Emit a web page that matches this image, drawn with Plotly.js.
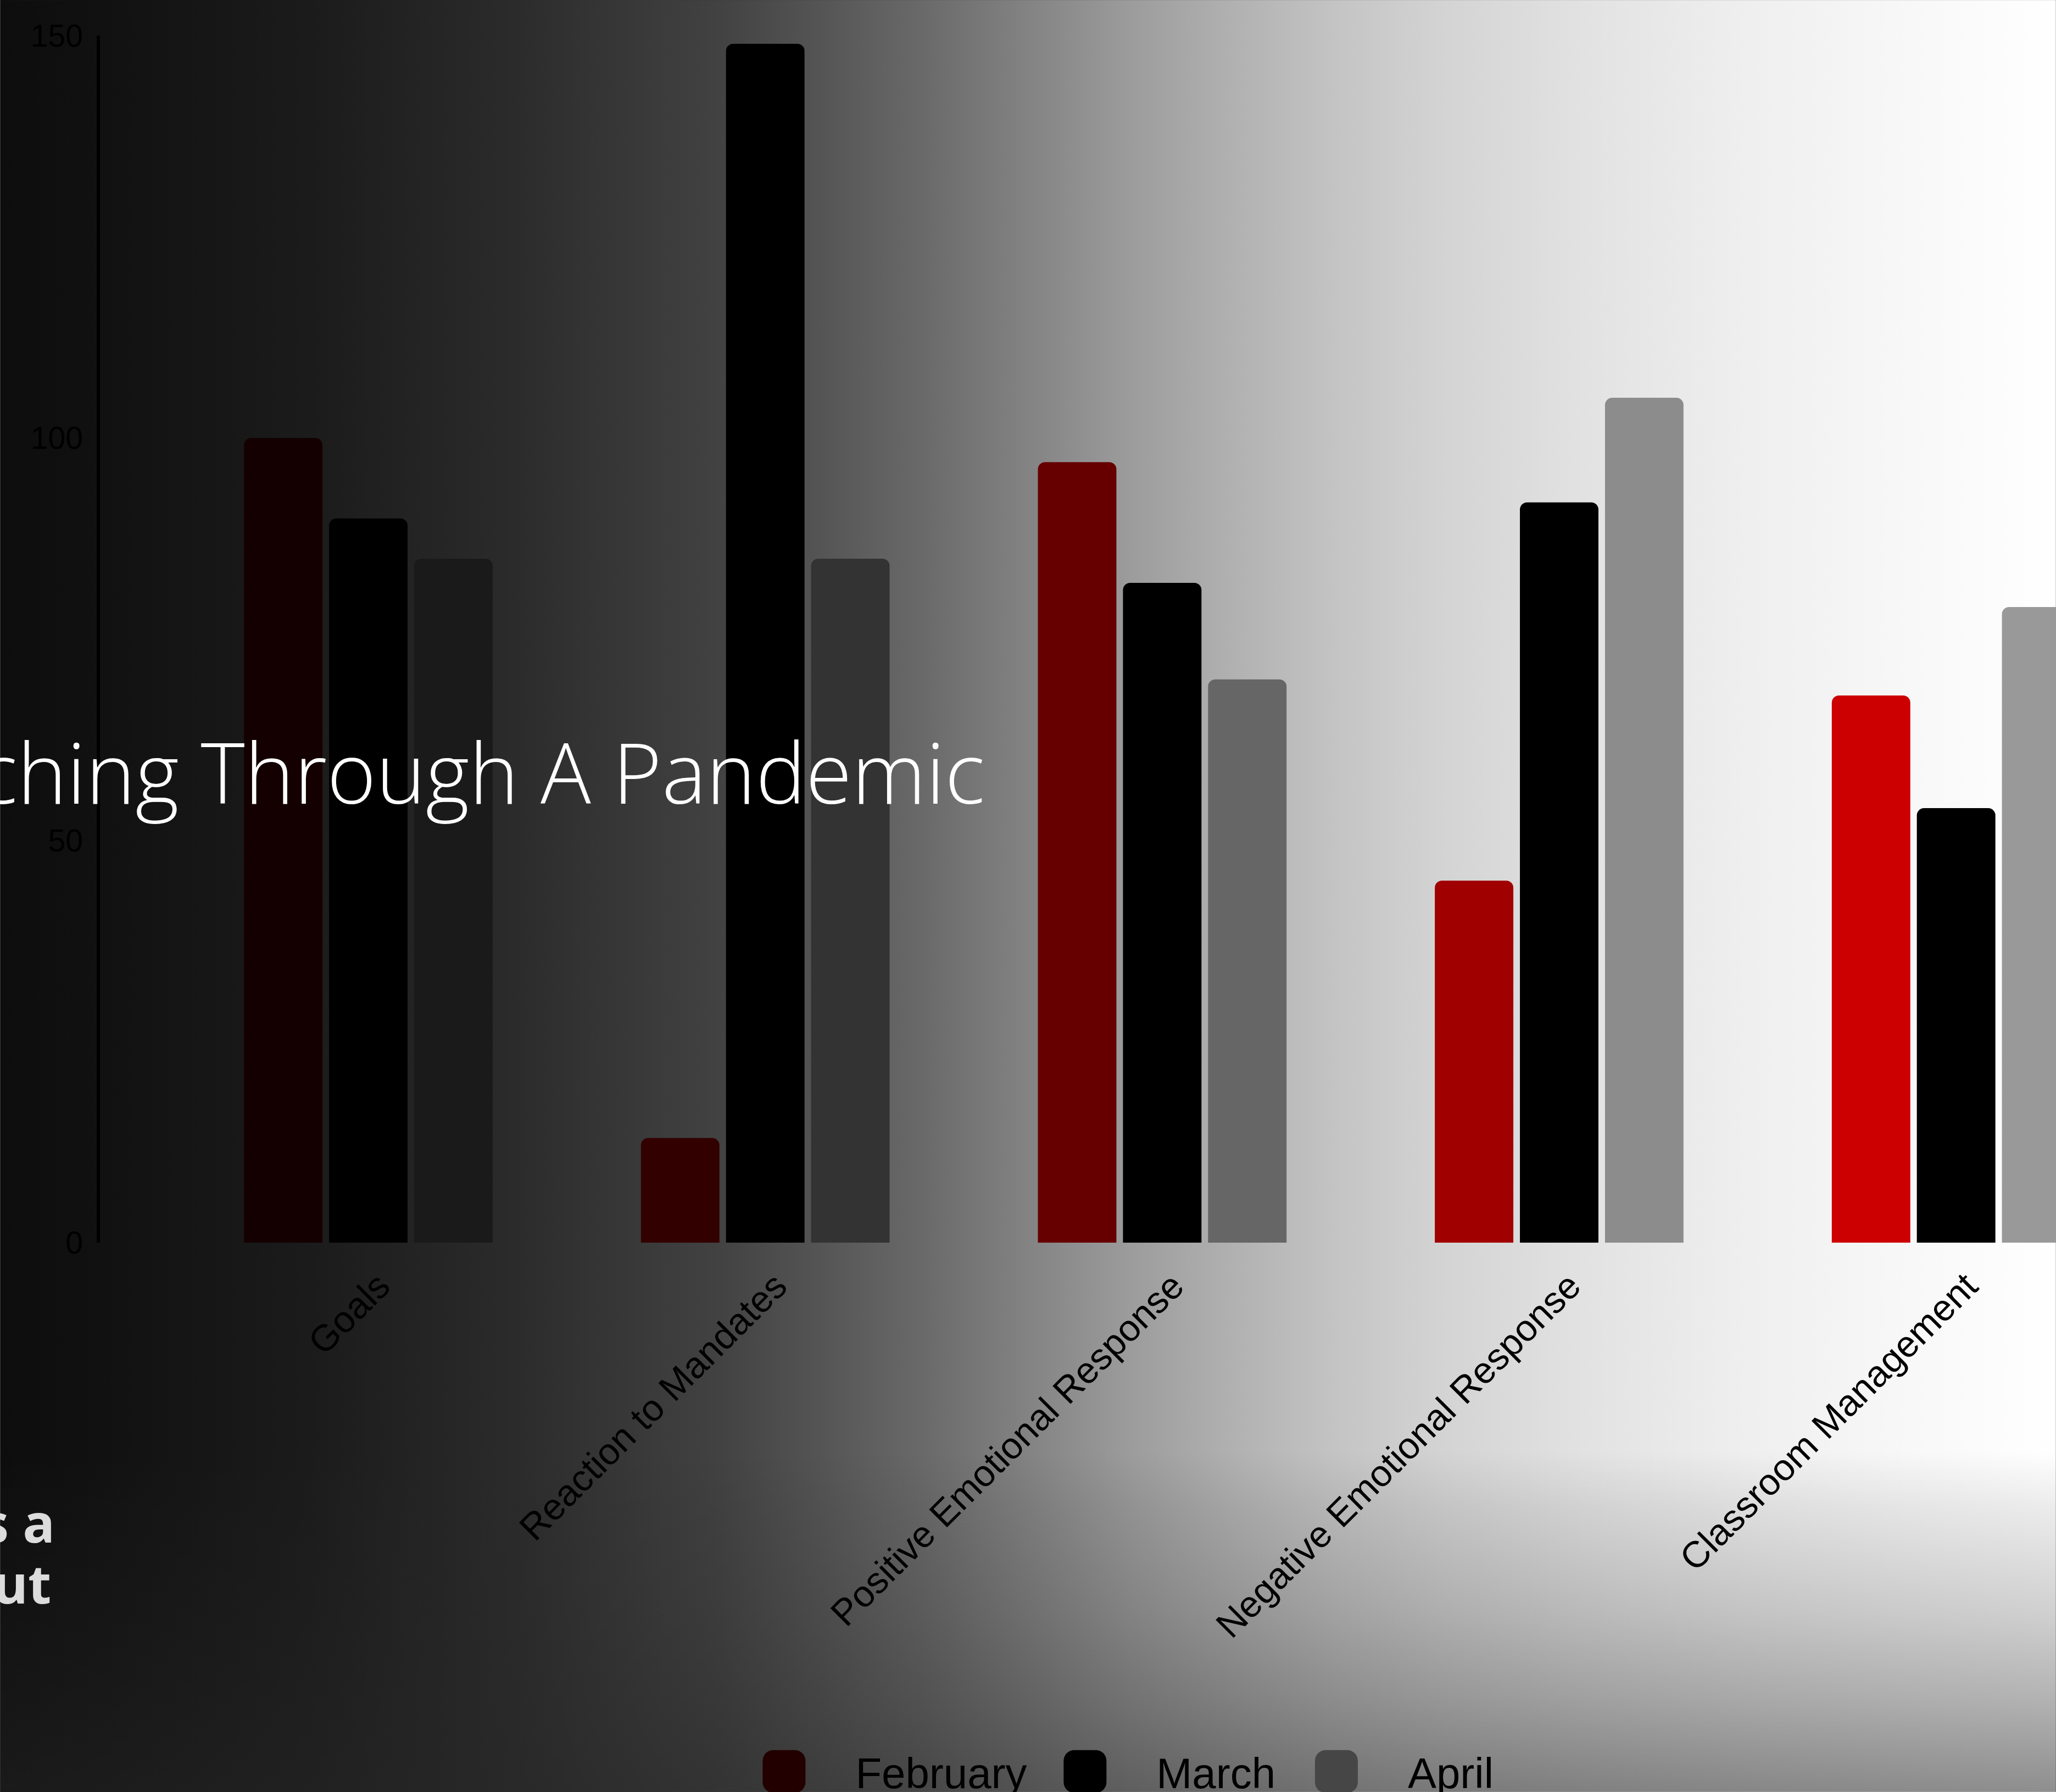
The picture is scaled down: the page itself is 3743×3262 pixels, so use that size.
<!DOCTYPE html>
<html>
<head>
<meta charset="utf-8">
<script src="https://cdn.plot.ly/plotly-3.0.1.min.js"></script>
<style>
  html, body {
    margin: 0; padding: 0;
    width: 3743px; height: 3262px; overflow: hidden;
  }
  body {
    background:
      linear-gradient(to bottom, rgba(38,38,38,0) 0%, rgba(38,38,38,0) 81%, rgba(38,38,38,0.088) 84%, rgba(38,38,38,0.217) 90%, rgba(38,38,38,0.341) 94.5%, rgba(38,38,38,0.488) 99%, rgba(38,38,38,0.52) 100%),
      linear-gradient(to right, #0d0d0d 0%, #111111 5%, #1b1b1b 15%, #2b2b2b 25%, #424242 35%, #555555 40%, #6a6a6a 45%, #838383 50%, #9c9c9c 55%, #b1b1b1 60%, #c4c4c4 65%, #d3d3d3 70%, #e2e2e2 77%, #efefef 85%, #f8f8f8 93%, #ffffff 100%);
  }
  #chart {
    position: absolute; left: 0; top: 0;
    width: 576px; height: 502px;
    transform: scale(6.5); transform-origin: 0 0;
  }
</style>
</head>
<body>
<div id="chart"></div>
<script>
// ---- data ----
const categories = ['Goals', 'Reaction to Mandates', 'Positive Emotional Response', 'Negative Emotional Response', 'Classroom Management'];
const seriesNames = ['February', 'March', 'April'];
const february = [100, 13, 97, 45, 68];
const march = [90, 149, 82, 92, 54];
const april = [85, 85, 70, 105, 79];
const yTicks = [0, 50, 100, 150];
const titleText = 'Teaching Through A Pandemic';
const sideTextLines = ['s a', 'ut'];

// ---- styles ----
const febColors = ['#140000', '#330000', '#660000', '#a00000', '#cc0000'];
const marColors = ['#000000', '#000000', '#000000', '#000000', '#000000'];
const aprColors = ['#1a1a1a', '#333333', '#666666', '#8c8c8c', '#999999'];
const legendColors = ['#220000', '#000000', '#464646'];
const groups = ['feb', 'mar', 'apr'];
const legendIds = ['legend', 'legend2', 'legend3'];
const legendLeftPx = [199.6, 283.9, 354.3];

const W = 576, H = 502;
const M = {l: 28, r: 0, t: 10, b: 154};
const PW = W - M.l - M.r, PH = H - M.t - M.b;
const px2x = p => (p - M.l) / PW;
const px2y = p => (H - M.b - p) / PH;

const axisFont = 'Liberation Sans, Arial, sans-serif';
const values = [february, march, april];
const colors = [febColors, marColors, aprColors];

const traces = values.map((v, i) => ({
  type: 'bar',
  name: seriesNames[i],
  x: categories,
  y: v,
  offsetgroup: groups[i],
  marker: {color: colors[i], cornerradius: 2, line: {width: 0}},
  showlegend: false,
  hoverinfo: 'skip'
}));
// legend entries (no marks)
seriesNames.forEach((n, i) => {
  traces.push({
    type: 'bar', name: n, x: [null], y: [null],
    offsetgroup: groups[i],
    legend: legendIds[i],
    marker: {color: legendColors[i], cornerradius: 1, line: {width: 0}},
    showlegend: true, hoverinfo: 'skip'
  });
});

const layout = {
  width: W, height: H,
  margin: {l: M.l, r: M.r, t: M.t, b: M.b, pad: 0, autoexpand: false},
  paper_bgcolor: 'rgba(0,0,0,0)',
  plot_bgcolor: 'rgba(0,0,0,0)',
  barmode: 'group',
  bargap: 0.357,
  bargroupgap: 0.077,
  font: {family: axisFont, color: '#000'},
  xaxis: {
    range: [-0.676, 4.253],
    showgrid: false, showline: false, zeroline: false,
    ticks: '', tickangle: -45,
    ticklabelstandoff: 3, ticklabelshift: 3,
    tickfont: {family: axisFont, size: 10.35, color: '#000'},
    automargin: false
  },
  yaxis: {
    range: [0, 150],
    tickvals: yTicks,
    showgrid: false, zeroline: false,
    showline: true, linecolor: '#000', linewidth: 1,
    ticks: '',
    ticklabelstandoff: 2,
    tickfont: {family: axisFont, size: 8.8, color: '#000'},
    automargin: false
  },
  showlegend: true,
  annotations: [
    {
      text: titleText, xref: 'paper', yref: 'paper',
      x: px2x(277.7), xanchor: 'right',
      y: px2y(215.9), yanchor: 'middle',
      showarrow: false,
      font: {family: 'Open Sans, sans-serif', size: 23.5, weight: 300, color: '#ffffff'}
    },
    {
      text: sideTextLines[0], xref: 'paper', yref: 'paper',
      x: px2x(16.6), xanchor: 'right',
      y: px2y(426.3), yanchor: 'middle',
      showarrow: false, align: 'right',
      font: {family: 'Open Sans, sans-serif', size: 15, weight: 700, color: '#dcdcdc'}
    },
    {
      text: sideTextLines[1], xref: 'paper', yref: 'paper',
      x: px2x(16.6), xanchor: 'right',
      y: px2y(443.0), yanchor: 'middle',
      showarrow: false, align: 'right',
      font: {family: 'Open Sans, sans-serif', size: 15, weight: 700, color: '#dcdcdc'}
    }
  ]
};

legendIds.forEach((id, i) => {
  layout[id] = {
    orientation: 'h',
    xref: 'paper', yref: 'paper',
    x: px2x(legendLeftPx[i]), xanchor: 'left',
    y: px2y(481.6), yanchor: 'top',
    bgcolor: 'rgba(0,0,0,0)', borderwidth: 0,
    font: {family: axisFont, size: 12, color: '#000'}
  };
});

Plotly.newPlot('chart', traces, layout, {staticPlot: true, displayModeBar: false});
</script>
</body>
</html>
